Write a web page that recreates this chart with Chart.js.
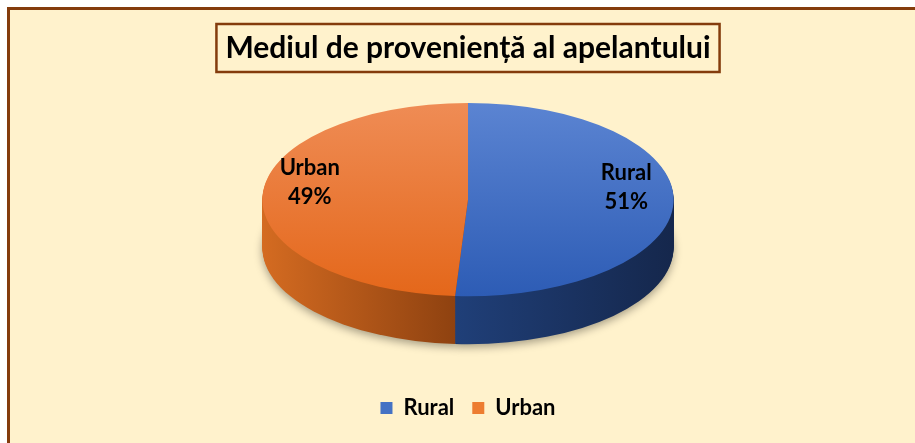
<!DOCTYPE html>
<html>
<head>
<meta charset="utf-8">
<script src="https://cdn.jsdelivr.net/npm/chart.js@4.4.1/dist/chart.umd.min.js"></script>
<style>
  html, body { margin: 0; padding: 0; background: #fff; overflow: hidden; }
  #frame { position: absolute; left: 7px; top: 7px; width: 1000px; height: 600px; background: #FFF2CC; border: 3px solid #843C0C; }
  #wrap { position: absolute; left: 0; top: 0; width: 915px; height: 443px; }
</style>
</head>
<body>
<div id="frame"></div>
<div id="wrap"><canvas id="chart1" width="915" height="443"></canvas></div>
<script>
const categories = ['Rural', 'Urban'];
const shares = [51, 49];
const chartTitle = 'Mediul de proveniență al apelantului';

// colours (top face gradient, side gradient, legend swatch)
const topLight = ['#5B84D2', '#EF8C55'];
const topDark = ['#2D5CB5', '#E4671A'];
const sideStops = [
    [[0.45, '#20407A'], [1, '#15274C']],
    [[0, '#D46B21'], [0.5, '#8A3F0F']]
];
const legendColors = ['#4472C4', '#ED7D31'];

const STRETCH = 1.49;   // horizontal widening of the disc
const TILT = 0.70;      // vertical squash of the disc
const DEPTH = 48;       // thickness of the 3D side, px

function tilt(ctx, arc, dy) {
    const top = arc.y - arc.outerRadius;
    ctx.translate(arc.x, top + dy);
    ctx.scale(STRETCH, TILT);
    ctx.translate(-arc.x, -top);
}

const pie3d = {
    id: 'pie3d',
    beforeDraw(chart) {
        const ctx = chart.ctx;
        const tb = chart.titleBlock;
        const opts = chart.options.plugins.title;
        ctx.save();
        ctx.font = 'bold ' + opts.font.size + 'px ' + opts.font.family;
        const w = ctx.measureText(chartTitle).width + 18;
        const cx = (tb.left + tb.right) / 2;
        const cy = tb.top + opts.padding.top + opts.font.size * 1.2 / 2;
        ctx.fillStyle = '#FFF2CC';
        ctx.strokeStyle = '#843C0C';
        ctx.lineWidth = 2.5;
        ctx.fillRect(cx - w / 2, cy - 24, w, 48);
        ctx.strokeRect(cx - w / 2, cy - 24, w, 48);
        ctx.restore();
    },
    beforeDatasetsDraw(chart) {
        const ctx = chart.ctx;
        const arcs = chart.getDatasetMeta(0).data;
        const a0 = arcs[0];
        for (let d = DEPTH; d >= 1; d--) {
            arcs.forEach((arc, i) => {
                ctx.save();
                if (d === DEPTH) {
                    ctx.shadowColor = 'rgba(0,0,0,0.35)';
                    ctx.shadowBlur = 8;
                    ctx.shadowOffsetY = 3;
                }
                tilt(ctx, arc, d);
                const g = ctx.createLinearGradient(a0.x - a0.outerRadius, 0, a0.x + a0.outerRadius, 0);
                sideStops[i].forEach(s => g.addColorStop(s[0], s[1]));
                ctx.fillStyle = g;
                ctx.beginPath();
                ctx.moveTo(arc.x, arc.y);
                ctx.arc(arc.x, arc.y, arc.outerRadius, arc.startAngle, arc.endAngle);
                ctx.closePath();
                ctx.fill();
                ctx.restore();
            });
        }
        ctx.save();
        tilt(ctx, a0, 0);
    },
    afterDatasetsDraw(chart) {
        const ctx = chart.ctx;
        ctx.restore();
        const arcs = chart.getDatasetMeta(0).data;
        ctx.save();
        ctx.font = 'bold 22px Lato';
        ctx.fillStyle = '#000';
        ctx.textAlign = 'center';
        ctx.textBaseline = 'middle';
        arcs.forEach((arc, i) => {
            const mid = (arc.startAngle + arc.endAngle) / 2;
            const r = arc.outerRadius;
            const top = arc.y - r;
            const px = arc.x + 0.77 * r * Math.cos(mid);
            const py = arc.y + 0.77 * r * Math.sin(mid);
            const X = arc.x + STRETCH * (px - arc.x);
            const Y = top + TILT * (py - top) - 15;
            ctx.fillText(categories[i], X, Y - 14);
            ctx.fillText(shares[i] + '%', X, Y + 15);
        });
        ctx.restore();
    }
};

const ctx1 = document.getElementById('chart1').getContext('2d');
const chart1 = new Chart(ctx1, {
    type: 'pie',
    data: {
        labels: categories,
        datasets: [{
            data: shares,
            borderWidth: 0,
            clip: false,
            backgroundColor: (c) => {
                const area = c.chart.chartArea;
                if (!area) return legendColors[c.dataIndex];
                const r = Math.min(area.right - area.left, area.bottom - area.top) / 2;
                const cy = (area.top + area.bottom) / 2;
                const g = c.chart.ctx.createLinearGradient(0, cy - r, 0, cy + r);
                g.addColorStop(0, topLight[c.dataIndex]);
                g.addColorStop(1, topDark[c.dataIndex]);
                return g;
            }
        }]
    },
    options: {
        responsive: false,
        animation: false,
        devicePixelRatio: 1,
        layout: { padding: { left: 21, right: 0, top: 0, bottom: 14 } },
        plugins: {
            title: {
                display: true,
                text: chartTitle,
                color: '#000',
                font: { family: 'Lato', size: 30, weight: 'bold' },
                padding: { top: 30, bottom: 37 }
            },
            legend: {
                position: 'bottom',
                labels: {
                    color: '#000',
                    font: { family: 'Lato', size: 22, weight: 'bold' },
                    boxWidth: 12,
                    boxHeight: 12,
                    padding: 18,
                    generateLabels: (chart) => categories.map((c, i) => ({
                        text: c,
                        fillStyle: legendColors[i],
                        strokeStyle: legendColors[i],
                        lineWidth: 0,
                        hidden: false,
                        index: i
                    }))
                }
            },
            tooltip: { enabled: false }
        }
    },
    plugins: [pie3d]
});
</script>
</body>
</html>
